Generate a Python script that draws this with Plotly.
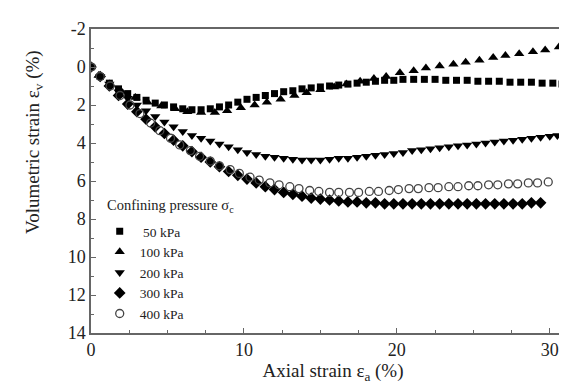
import plotly.graph_objects as go

# 50 kPa (squares)
x50 = [0, 0.6, 1.2, 1.8, 2.4, 3.0, 3.6, 4.2, 4.8, 5.4, 6.0, 6.6, 7.2, 7.8, 8.4, 9.0, 9.6, 10.2, 10.8, 11.4,
       12.0, 12.6, 13.2, 13.8, 14.4, 15.0, 15.6, 16.2, 16.8, 17.4, 18.0, 18.6, 19.2, 19.8, 20.4, 21.1, 21.8,
       22.5, 23.2, 23.9, 24.6, 25.3, 26.0, 26.7, 27.4, 28.1, 28.8, 29.5, 30.2, 30.8]
y50 = [0.0, 0.5, 0.85, 1.15, 1.4, 1.6, 1.75, 1.9, 2.0, 2.1, 2.2, 2.25, 2.25, 2.2, 2.1, 2.0, 1.85, 1.7, 1.6, 1.5,
       1.4, 1.3, 1.25, 1.15, 1.1, 1.05, 1.0, 0.95, 0.9, 0.85, 0.8, 0.75, 0.7, 0.7, 0.65, 0.65, 0.65,
       0.65, 0.7, 0.7, 0.7, 0.75, 0.75, 0.75, 0.8, 0.8, 0.8, 0.85, 0.85, 0.9]

# 100 kPa (up triangles)
x100 = [0, 0.5, 1.2, 2.0, 2.9, 3.7, 4.6, 5.5, 6.3, 7.2, 8.1, 8.9, 9.8, 10.7, 11.5, 12.4, 13.3, 14.1, 15.0,
        15.9, 16.7, 17.6, 18.5, 19.3, 20.2, 21.1, 21.9, 22.8, 23.7, 24.5, 25.4, 26.3, 27.1, 28.0, 28.9, 29.7, 30.6]
y100 = [0.0, 0.45, 0.9, 1.3, 1.6, 1.85, 2.05, 2.2, 2.35, 2.4, 2.4, 2.3, 2.15, 2.0, 1.85, 1.7, 1.5, 1.35, 1.2,
        1.05, 0.9, 0.75, 0.6, 0.5, 0.3, 0.2, 0.05, -0.05, -0.15, -0.25, -0.35, -0.5, -0.6, -0.7, -0.8, -0.9, -1.05]

# 200 kPa (down triangles)
x200 = [0, 0.6, 1.2, 1.8, 2.4, 3.0, 3.6, 4.2, 4.8, 5.4, 6.0, 6.6, 7.2, 7.8, 8.4, 9.0, 9.6, 10.2, 10.8, 11.4,
        12.0, 12.6, 13.2, 13.8, 14.4, 15.0, 15.6, 16.2, 16.8, 17.4, 18.0, 18.6, 19.2, 19.8, 20.4, 21.0, 21.6,
        22.2, 22.8, 23.4, 24.0, 24.6, 25.2, 25.8, 26.4, 27.0, 27.6, 28.2, 28.8, 29.4, 30.0, 30.5]
y200 = [0.0, 0.5, 0.9, 1.3, 1.65, 2.0, 2.3, 2.6, 2.9, 3.15, 3.4, 3.6, 3.75, 3.9, 4.05, 4.2, 4.35, 4.5, 4.6, 4.7,
        4.75, 4.8, 4.85, 4.9, 4.9, 4.9, 4.85, 4.8, 4.8, 4.75, 4.7, 4.65, 4.6, 4.55, 4.5, 4.4, 4.35,
        4.3, 4.25, 4.2, 4.15, 4.1, 4.05, 4.0, 3.95, 3.9, 3.85, 3.8, 3.75, 3.7, 3.65, 3.6]

# 300 kPa (diamonds)
x300 = [0, 0.6, 1.2, 1.8, 2.4, 3.0, 3.6, 4.2, 4.8, 5.4, 6.0, 6.6, 7.2, 7.8, 8.4, 9.0, 9.6, 10.2, 10.8, 11.4,
        12.0, 12.6, 13.2, 13.8, 14.4, 15.0, 15.6, 16.2, 16.8, 17.4, 18.0, 18.6, 19.2, 19.8, 20.4, 21.0, 21.6,
        22.2, 22.8, 23.4, 24.0, 24.6, 25.2, 25.8, 26.4, 27.0, 27.6, 28.2, 28.8, 29.4]
y300 = [0.0, 0.5, 1.0, 1.5, 1.95, 2.35, 2.75, 3.15, 3.5, 3.85, 4.15, 4.45, 4.75, 5.0, 5.25, 5.5, 5.7, 5.9, 6.1, 6.3,
        6.45, 6.6, 6.7, 6.8, 6.9, 6.95, 7.0, 7.05, 7.1, 7.1, 7.15, 7.15, 7.2, 7.2, 7.2, 7.2, 7.2,
        7.2, 7.2, 7.2, 7.2, 7.2, 7.2, 7.2, 7.2, 7.2, 7.2, 7.2, 7.15, 7.15]

# 400 kPa (open circles)
x400 = [0, 0.6, 1.25, 1.9, 2.55, 3.2, 3.9, 4.5, 5.2, 5.8, 6.5, 7.1, 7.8, 8.4, 9.1, 9.7, 10.4, 11.0, 11.7, 12.3,
        13.0, 13.6, 14.3, 14.9, 15.6, 16.2, 16.9, 17.5, 18.2, 18.8, 19.5, 20.1, 20.8, 21.4, 22.1, 22.7, 23.4,
        24.0, 24.7, 25.3, 26.0, 26.6, 27.3, 27.9, 28.6, 29.2, 29.9]
y400 = [0.0, 0.5, 1.0, 1.5, 2.0, 2.45, 2.95, 3.35, 3.75, 4.1, 4.4, 4.7, 4.95, 5.2, 5.4, 5.6, 5.8, 5.95, 6.1, 6.2,
        6.3, 6.4, 6.5, 6.55, 6.6, 6.6, 6.6, 6.6, 6.55, 6.55, 6.5, 6.45, 6.4, 6.4, 6.35, 6.35, 6.3,
        6.3, 6.25, 6.25, 6.2, 6.2, 6.15, 6.15, 6.1, 6.1, 6.05]

y_ticks = [-2, 0, 2, 4, 6, 8, 10, 12, 14]
y_ticklabels = ["-2", "0", "2", "4", "6", "8", "10", "12", "14"]
x_ticks = [0, 10, 20, 30]
x_ticklabels = ["0", "10", "20", "30"]

series = [
    (" 50 kPa", x50, y50, "square", 7),
    ("100 kPa", x100, y100, "triangle-up", 9),
    ("200 kPa", x200, y200, "triangle-down", 9),
    ("300 kPa", x300, y300, "diamond", 9),
    ("400 kPa", x400, y400, "circle-open", 8),
]

FONT = "Liberation Serif"
TXT = "#222222"
AX = "#666666"
fig = go.Figure()
for name, xs, ys, sym, sz in series:
    if sym == "circle-open":
        marker = dict(symbol=sym, size=sz, color="#444444", line=dict(width=1.3, color="#444444"))
    else:
        marker = dict(symbol=sym, size=sz, color="black", line=dict(width=0))
    fig.add_trace(go.Scatter(x=xs, y=ys, mode="markers", name=name, marker=marker))

axis_common = dict(
    showgrid=False, zeroline=False, showline=True, linecolor=AX, linewidth=1.5,
    ticks="inside", ticklen=5, tickwidth=1.2, tickcolor=AX,
    tickfont=dict(family=FONT, size=18, color=TXT),
)
fig.update_xaxes(
    range=[0, 31.65], tickvals=x_ticks, ticktext=x_ticklabels, mirror=True,
    minor=dict(dtick=2.5, tick0=0, ticks="inside", ticklen=3, tickcolor=AX),
    title=dict(text="Axial strain ε<sub>a</sub> (%)", font=dict(family=FONT, size=19, color=TXT), standoff=1),
    **axis_common,
)
fig.update_yaxes(
    range=[14, -2], tickvals=y_ticks, ticktext=y_ticklabels,
    minor=dict(dtick=1, tick0=0, ticks="inside", ticklen=3, tickcolor=AX),
    **axis_common,
)
fig.add_annotation(
    text="Volumetric strain ε<sub>v</sub> (%)", textangle=-90,
    xref="paper", yref="paper", x=(26 - 83) / 484, y=(325 - 134) / 304,
    xanchor="center", yanchor="middle", showarrow=False,
    font=dict(family=FONT, size=19, color=TXT),
)
# legend heading
fig.add_annotation(
    text="Confining pressure σ<sub>c</sub>",
    xref="paper", yref="paper", x=(97 - 83) / 484, y=(325 - 198) / 304,
    xanchor="left", yanchor="middle", showarrow=False,
    font=dict(family=FONT, size=14.5, color=TXT),
)
fig.update_layout(
    width=567, height=382,
    margin=dict(l=83, r=0, t=21, b=57),
    paper_bgcolor="white", plot_bgcolor="white",
    legend=dict(
        font=dict(family=FONT, size=13.5, color=TXT),
        x=0.018, y=(325 - 208) / 304, xanchor="left", yanchor="top",
        bgcolor="rgba(0,0,0,0)", tracegroupgap=0, itemwidth=30,
    ),
    showlegend=True,
)
fig.write_html("out.html")
